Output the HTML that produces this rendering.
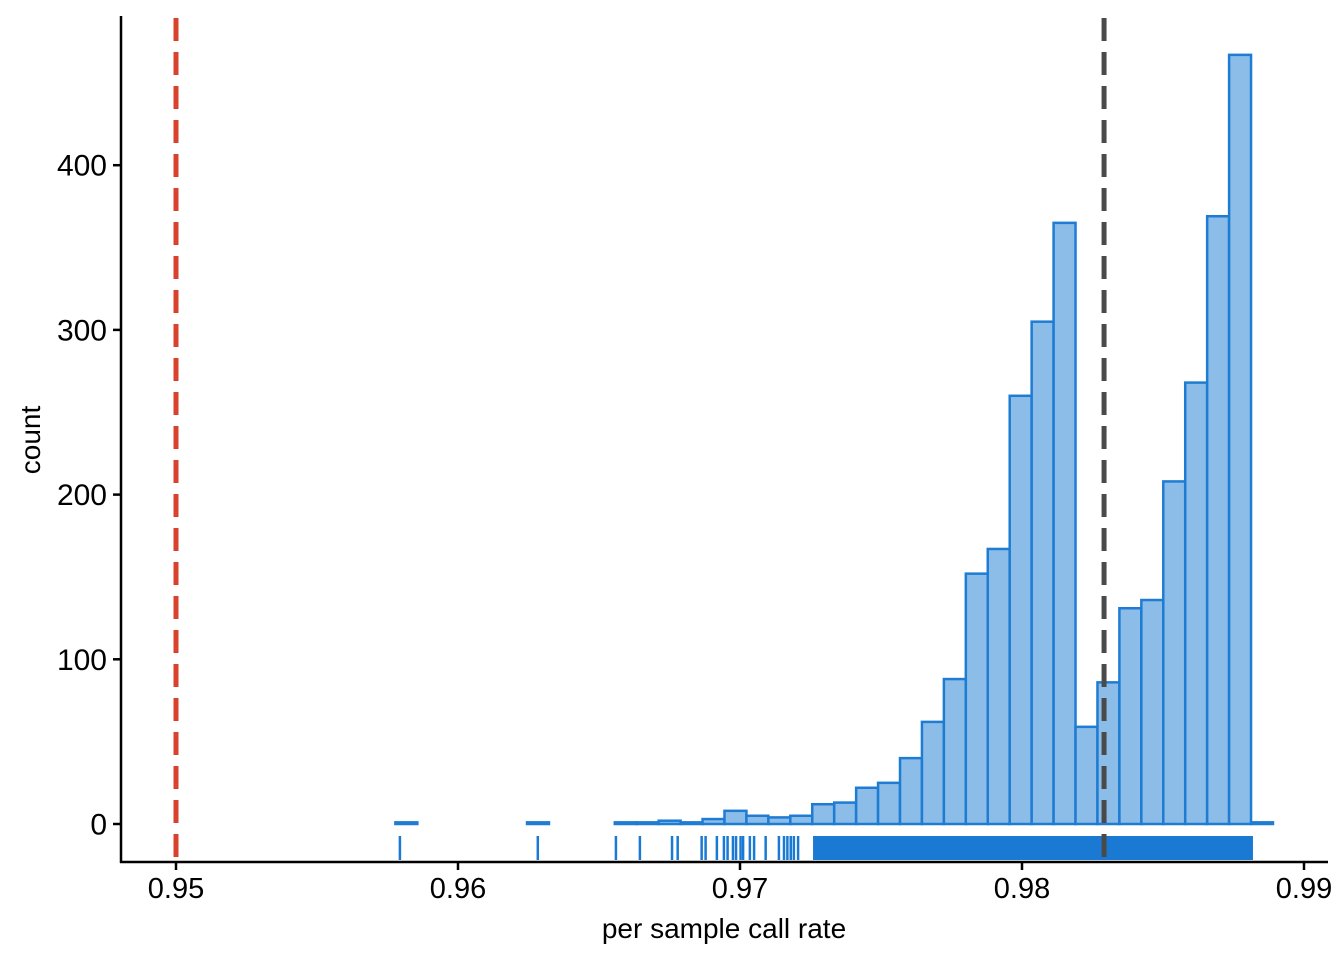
<!DOCTYPE html>
<html><head><meta charset="utf-8"><style>
html,body{margin:0;padding:0;background:#fff;}
svg{display:block;font-family:"Liberation Sans",Arial,sans-serif;}
</style></head><body>
<svg id="chart" width="1344" height="960" viewBox="0 0 1344 960" xmlns="http://www.w3.org/2000/svg">
<g id="bars"></g>
<g id="rug"></g>
<g id="vlines"></g>
<g id="axes"></g>
<text x="724" y="938" font-size="28" text-anchor="middle">per sample call rate</text>
<text transform="translate(40,440) rotate(-90)" font-size="28" text-anchor="middle">count</text>
</svg>
<script>
const binStart = 0.95;
const binWidth = 0.000778;
const counts = [0,0,0,0,0,0,0,0,0,0,1,0,0,0,0,0,1,0,0,0,1,1,2,1,3,8,5,4,5,12,13,22,25,40,62,88,152,167,260,305,365,59,86,131,136,208,268,369,467,1];
const rugValues = [0.95794,0.96283,0.96560,0.96645,0.96759,0.96779,0.96864,0.96878,0.96918,0.96943,0.96956,0.96975,0.96986,0.97002,0.97011,0.97035,0.97050,0.97091,0.97138,0.97156,0.97168,0.97180,0.97191,0.97206];
const rugDenseRange = [0.97259, 0.98819];
const xTicks = [0.95,0.96,0.97,0.98,0.99];
const xTickLabels = ["0.95","0.96","0.97","0.98","0.99"];
const yTicks = [0,100,200,300,400];
const yTickLabels = ["0","100","200","300","400"];
const cutoffLine = 0.95;
const medianLine = 0.98291;

const NS = "http://www.w3.org/2000/svg";
const X = v => 176 + (v - 0.95) * 28200;
const Y = c => 824 - c * 1.647;
function mk(tag, attrs, parent){
  const e = document.createElementNS(NS, tag);
  for (const k in attrs) e.setAttribute(k, attrs[k]);
  parent.appendChild(e); return e;
}
const bars = document.getElementById('bars');
counts.forEach((c, i) => {
  const x0 = X(binStart + i * binWidth), x1 = X(binStart + (i + 1) * binWidth);
  const r = mk('rect', {x: x0, y: Y(c), width: x1 - x0, height: Y(0) - Y(c), fill: '#8bbde8', stroke: '#1f7cd3', 'stroke-width': 2.5}, bars);
  
  
});
const rug = document.getElementById('rug');
rugValues.forEach(v => {
  const l = mk('line', {x1: X(v), x2: X(v), y1: 836, y2: 860, stroke: '#1a7ad3', 'stroke-width': 2.5}, rug);
  
  
});
const dense = mk('rect', {x: X(rugDenseRange[0]), y: 836, width: X(rugDenseRange[1]) - X(rugDenseRange[0]), height: 24, fill: '#1a7ad3'}, rug);



const vl = document.getElementById('vlines');
const red = mk('line', {x1: X(cutoffLine), x2: X(cutoffLine), y1: 18, y2: 862, stroke: '#d9432e', 'stroke-width': 5, 'stroke-dasharray': '23 11'}, vl);


const gray = mk('line', {x1: X(medianLine), x2: X(medianLine), y1: 18, y2: 862, stroke: '#4a4a4a', 'stroke-width': 5, 'stroke-dasharray': '23 11'}, vl);



const ax = document.getElementById('axes');
const xa = mk('line', {x1: 120, x2: 1328, y1: 862, y2: 862, stroke: '#000', 'stroke-width': 2.5}, ax);


const ya = mk('line', {x1: 121, x2: 121, y1: 16, y2: 863, stroke: '#000', 'stroke-width': 2.5}, ax);


xTicks.forEach((v, i) => {
  const t = mk('line', {x1: X(v), x2: X(v), y1: 862, y2: 870, stroke: '#000', 'stroke-width': 2.5}, ax);
  
  
  const tx = mk('text', {x: X(v), y: 898, 'font-size': 29, 'text-anchor': 'middle', fill: '#000'}, ax);
  tx.textContent = xTickLabels[i];
  
  
});
yTicks.forEach((v, i) => {
  const t = mk('line', {x1: 113, x2: 121, y1: Y(v), y2: Y(v), stroke: '#000', 'stroke-width': 2.5}, ax);
  
  
  const tx = mk('text', {x: 107, y: Y(v) + 10.5, 'font-size': 30, 'text-anchor': 'end', fill: '#000'}, ax);
  tx.textContent = yTickLabels[i];
  
  
});
</script>
</body></html>
